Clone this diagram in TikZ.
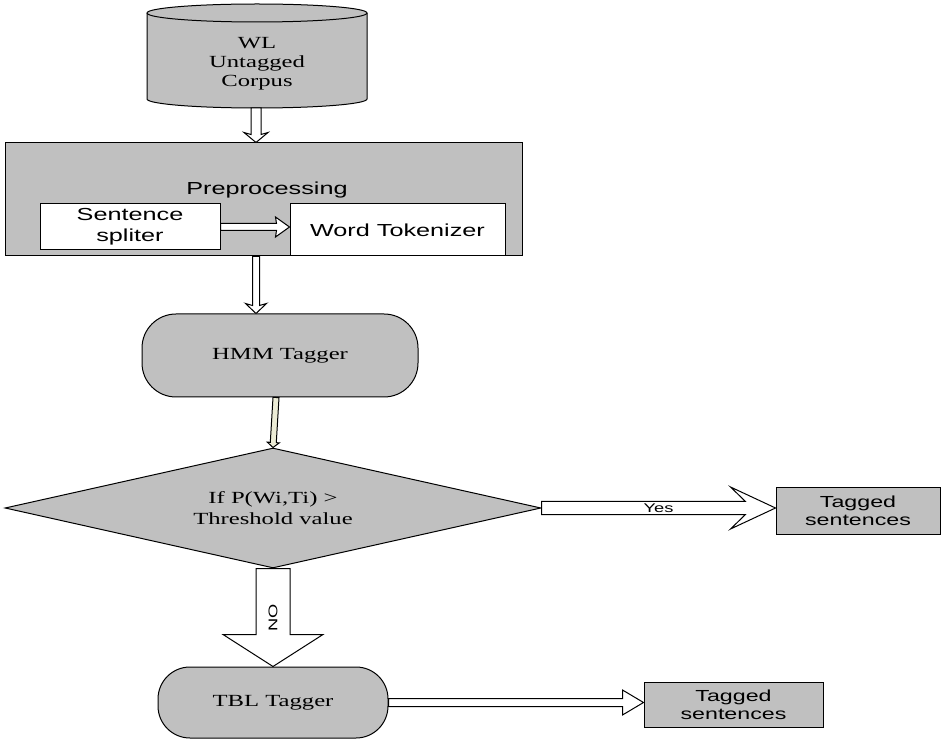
\documentclass[tikz,border=0pt]{standalone}
\usepackage{fontspec}
\newfontfamily\tnr{Liberation Serif}[FakeStretch=1.45]
\newfontfamily\arl{Liberation Sans}[FakeStretch=1.45]
\usepackage{tikz}
\usepackage{color}
\usetikzlibrary{shapes.geometric, calc}

\definecolor{boxgray}{RGB}{192,192,192}
\definecolor{ivory}{RGB}{236,236,214}

% hollow block arrow: shaft half width / inner head length / outer head length / head half width
\tikzset{
	hollow/.style args={#1/#2/#3/#4}{draw=black, fill=white, line width=0.5pt,
		to path={($(\tikztostart)!#1!90:(\tikztotarget)$)
			-- ($(\tikztotarget)!#2!(\tikztostart)!#1!90:(\tikztotarget)$)
			-- ($(\tikztotarget)!#3!(\tikztostart)!#4!90:(\tikztotarget)$)
			-- (\tikztotarget)
			-- ($(\tikztotarget)!#3!(\tikztostart)!#4!-90:(\tikztotarget)$)
			-- ($(\tikztotarget)!#2!(\tikztostart)!#1!-90:(\tikztotarget)$)
			-- ($(\tikztostart)!#1!-90:(\tikztotarget)$) -- cycle}}
}

\begin{document}
\begin{tikzpicture}[x=0.5pt, y=0.5pt,
	grey/.style={draw=black, fill=boxgray, line width=0.5pt},
	serif/.style={font=\tnr\fontsize{8.5}{9.5}\selectfont, align=center},
	sans/.style={font=\arl\fontsize{8.7}{10.5}\selectfont, align=center},
	whitebox/.style={draw=black, fill=white, line width=0.5pt, inner sep=0pt},
	tagger/.style={grey, rounded corners=17pt, inner sep=0pt},
	tagged/.style={grey, inner sep=0pt, align=center, font=\arl\fontsize{8}{9}\selectfont}]
	\useasboundingbox (0,0) rectangle (943,740);

	% corpus
	\filldraw[grey] (147,727) -- (147,641) arc[start angle=180, end angle=360, x radius=110, y radius=9]
		-- (367,727) arc[start angle=0, end angle=180, x radius=110, y radius=9] -- cycle;
	\draw[line width=0.5pt] (147,727) arc[start angle=180, end angle=360, x radius=110, y radius=9];
	\node[serif] (wl) at (257,676) {WL\\Untagged\\Corpus};
	\coordinate (wlbot) at (256,632);

	% preprocessing
	\node[grey, minimum width=258.5pt, minimum height=56.5pt, inner sep=0pt] (pre) at (263.5,540.5) {};
	\node[sans] (prep) at (267,550) {Preprocessing};
	\node[whitebox, sans, minimum width=90pt, minimum height=23pt] (sent) at (130,513) {Sentence\\spliter};
	\node[whitebox, sans, minimum width=107.5pt, minimum height=26pt] (word) at (397.5,510) {Word Tokenizer};

	% taggers and test
	\node[tagger, serif, minimum width=138pt, minimum height=41.5pt] (hmm) at (280,384.5) {HMM Tagger};
	\node[grey, diamond, aspect=4.47, minimum width=268pt, minimum height=60pt, inner sep=0pt,
		serif, font=\tnr\fontsize{8.5}{10.5}\selectfont] (test) at (273,232) {If P(Wi,Ti) >\\Threshold value};
	\node[tagged, minimum width=82pt, minimum height=23pt] (tag1) at (858,229) {Tagged\\sentences};
	\node[tagger, serif, rounded corners=16pt, minimum width=115pt, minimum height=35.5pt] (tbl) at (273,37.5) {TBL Tagger};
	\node[tagged, minimum width=89.5pt, minimum height=22.5pt] (tag2) at (733.5,35.5) {Tagged\\sentences};

	\coordinate (prein) at (wlbot |- pre.north);
	\coordinate (preout) at (wlbot |- pre.south);
	\coordinate (hmmin) at (wlbot |- hmm.north);
	\coordinate (hmmout) at ($(hmm.south)+(-4,0)$);
	\coordinate (wordin) at (sent.east -| word.west);
	\coordinate (yesin) at (test.east -| tag1.west);
	\coordinate (tagin) at (tbl.east -| tag2.west);

	\draw[hollow=2.5pt/4pt/5pt/6pt] (wlbot) to (prein);
	\draw[hollow=1.75pt/6.5pt/7pt/5pt] (sent.east) to (wordin);
	\draw[hollow=1.75pt/4pt/5pt/5.25pt] (preout) to (hmmin);
	\draw[hollow=1.5pt/2.5pt/2.5pt/3pt, fill=ivory] (hmmout) to (test.north);
	\draw[hollow=3.25pt/15pt/22.5pt/10.5pt] (test.east) to (yesin);
	\draw[hollow=8.5pt/16pt/16pt/25pt] (test.south) to (tbl.north);
	\draw[hollow=2pt/10.5pt/10.5pt/6.25pt] (tbl.east) to (tagin);

	\node[font=\arl\fontsize{6.3}{7}\selectfont] (yes) at ($(test.east)!0.5!(yesin)$) {Yes};
	\node[font=\arl\fontsize{6.3}{7}\selectfont, rotate=90] (no) at ($(test.south)!0.5!(tbl.north)$) {NO};
\end{tikzpicture}
\end{document}
